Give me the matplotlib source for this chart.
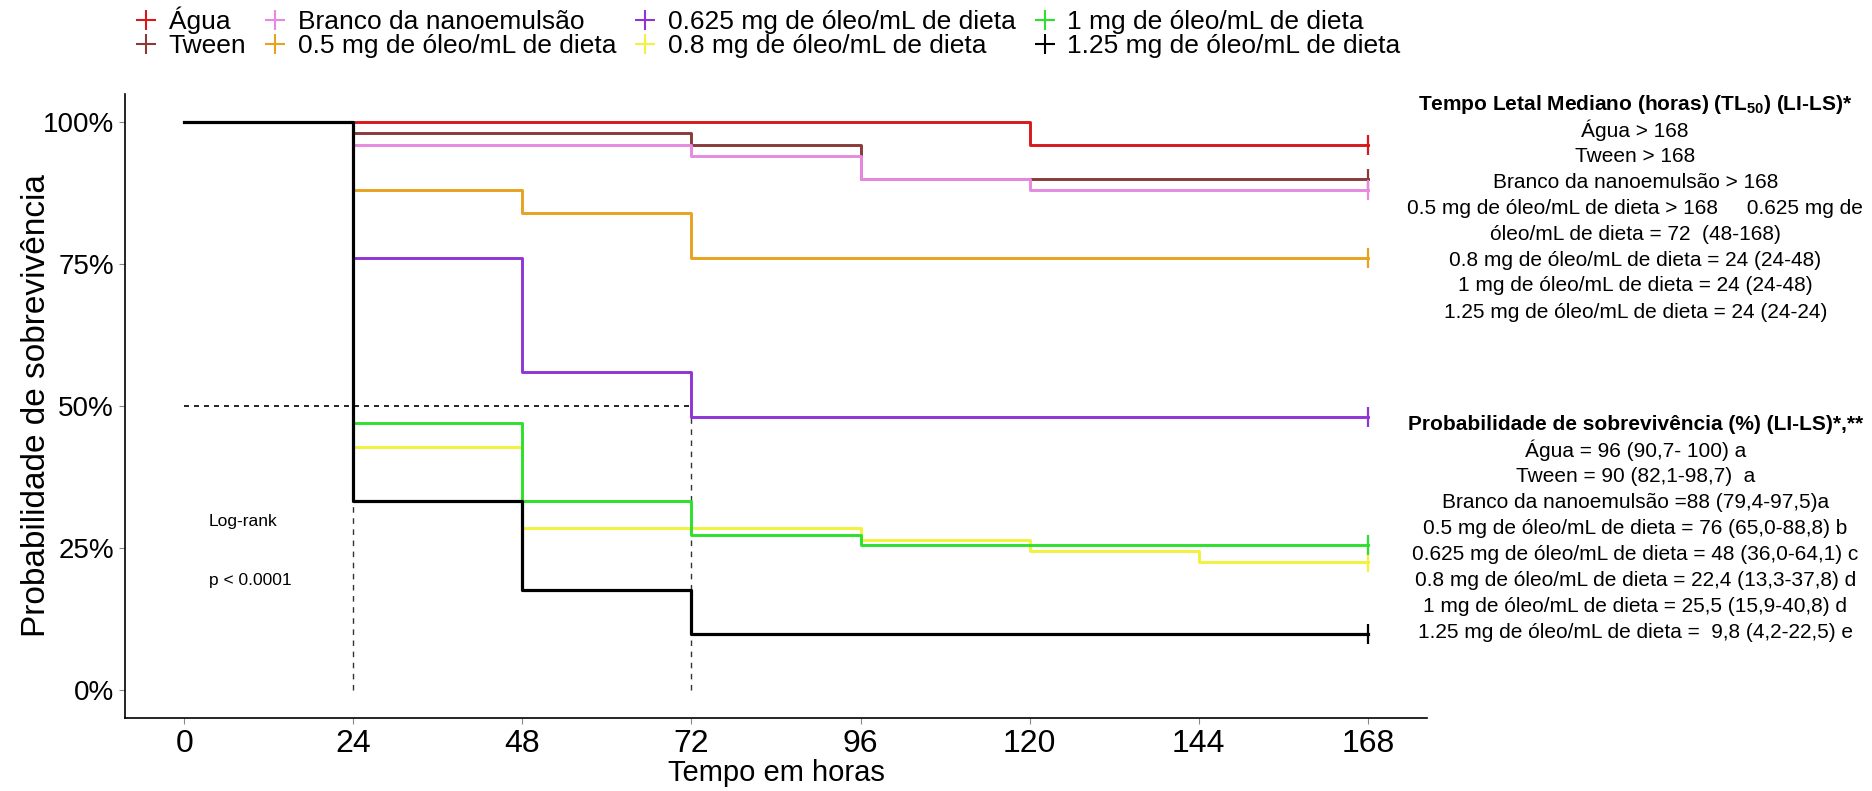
import matplotlib
matplotlib.use('Agg')
import matplotlib.pyplot as plt
from matplotlib import font_manager
from matplotlib.lines import Line2D
from matplotlib.ticker import FuncFormatter

# fontes: versão estreita se existir
_nomes = {f.name for f in font_manager.fontManager.ttflist}
NARROW = 'Liberation Sans Narrow' if 'Liberation Sans Narrow' in _nomes else 'Liberation Sans'
REGULAR = 'Liberation Sans'
plt.rcParams['font.family'] = [REGULAR, 'DejaVu Sans']
plt.rcParams['mathtext.fontset'] = 'custom'
plt.rcParams['mathtext.rm'] = NARROW
plt.rcParams['mathtext.bf'] = NARROW + ':bold'
FAM = [NARROW, 'DejaVu Sans']

# tempos (horas) e sobrevivência (%) em cada tempo
tempos = [0, 24, 48, 72, 96, 120, 144, 168]
agua = [100, 100, 100, 100, 100, 96, 96, 96]
tween = [100, 98, 98, 96, 90, 90, 90, 90]
branco = [100, 96, 96, 94, 90, 88, 88, 88]
oleo_05 = [100, 88, 84, 76, 76, 76, 76, 76]
oleo_0625 = [100, 76, 56, 48, 48, 48, 48, 48]
oleo_08 = [100, 42.7, 28.5, 28.5, 26.4, 24.5, 22.4, 22.4]
oleo_1 = [100, 47, 33.2, 27.2, 25.5, 25.5, 25.5, 25.5]
oleo_125 = [100, 33.2, 17.5, 9.8, 9.8, 9.8, 9.8, 9.8]

grupos = ['Água', 'Tween', 'Branco da nanoemulsão', '0.5 mg de óleo/mL de dieta',
          '0.625 mg de óleo/mL de dieta', '0.8 mg de óleo/mL de dieta',
          '1 mg de óleo/mL de dieta', '1.25 mg de óleo/mL de dieta']
series = [agua, tween, branco, oleo_05, oleo_0625, oleo_08, oleo_1, oleo_125]
cores = ['#D7191C', '#8B3A3A', '#E58AE0', '#E9A21F', '#8E35D6', '#F2F23A', '#2EE02E', '#000000']

# tempos medianos (linhas tracejadas)
medianas = [24, 72]

tl50 = ['Água > 168', 'Tween > 168', 'Branco da nanoemulsão > 168',
        '0.5 mg de óleo/mL de dieta > 168     0.625 mg de',
        'óleo/mL de dieta = 72  (48-168)',
        '0.8 mg de óleo/mL de dieta = 24 (24-48)',
        '1 mg de óleo/mL de dieta = 24 (24-48)',
        '1.25 mg de óleo/mL de dieta = 24 (24-24)']
prob = ['Água = 96 (90,7- 100) a', 'Tween = 90 (82,1-98,7)  a',
        'Branco da nanoemulsão =88 (79,4-97,5)a',
        '0.5 mg de óleo/mL de dieta = 76 (65,0-88,8) b',
        '0.625 mg de óleo/mL de dieta = 48 (36,0-64,1) c',
        '0.8 mg de óleo/mL de dieta = 22,4 (13,3-37,8) d',
        '1 mg de óleo/mL de dieta = 25,5 (15,9-40,8) d',
        '1.25 mg de óleo/mL de dieta =  9,8 (4,2-22,5) e']

fig = plt.figure(figsize=(18.72, 7.91), dpi=100)
ax = fig.add_axes([0.0668, 0.0923, 0.6955, 0.7894])

for s, c in zip(series, cores):
    lw = 2.3 if c == '#000000' else 2.1
    ax.step(tempos, [v / 100 for v in s], where='post', color=c, lw=lw, zorder=3)
    ax.plot(tempos[-1], s[-1] / 100, marker='|', ms=14, mew=1.6, color=c, zorder=4)

# linhas da mediana
ax.plot([0, max(medianas)], [0.5, 0.5], ls=(0, (3, 3)), color='black', lw=1.2, zorder=2)
for m in medianas:
    ax.plot([m, m], [0, 0.5], ls=(0, (4, 4)), color='#333333', lw=1.0, zorder=2)

ax.text(3.5, 0.296, 'Log-rank', fontsize=12.5, family=FAM, va='center')
ax.text(3.5, 0.192, 'p < 0.0001', fontsize=12.5, family=FAM, va='center')

ax.set_xlim(-8.4, 176.4)
ax.set_ylim(-0.05, 1.05)
ax.set_xticks(tempos)
ax.set_yticks([0, 0.25, 0.5, 0.75, 1.0])
ax.yaxis.set_major_formatter(FuncFormatter(lambda v, p: f'{v * 100:.0f}%'))
for lab in ax.get_xticklabels():
    lab.set_family(FAM)
    lab.set_fontsize(23)
for lab in ax.get_yticklabels():
    lab.set_fontsize(20)
ax.tick_params(length=4, width=0.8, color='#888888', pad=4)
for lado in ['top', 'right']:
    ax.spines[lado].set_visible(False)
for lado in ['left', 'bottom']:
    ax.spines[lado].set_linewidth(1.2)

ax.set_xlabel('Tempo em horas', fontsize=21, family=FAM, labelpad=0)
ax.set_ylabel('Probabilidade de sobrevivência', fontsize=24)
ax.yaxis.set_label_coords(-0.056, 0.5)

# legenda em duas linhas
alcas = [Line2D([], [], ls='none', marker='+', ms=15, mew=1.5, color=c) for c in cores]
fig.legend(alcas, grupos, loc='upper left', bbox_to_anchor=(0.064, 1.012), ncol=4, frameon=False,
           prop={'family': FAM, 'size': 19}, handlelength=0.8,
           handletextpad=0.45, columnspacing=0.7, labelspacing=0.0, borderaxespad=0.2)

# quadro de resultados à direita
xc = 0.8735
fs = 15
fig.text(xc, 1 - 104 / 791, r'Tempo Letal Mediano (horas) (TL$_{\mathbf{50}}$) (LI-LS)*', ha='center',
         va='center', fontsize=fs, fontweight='bold', family=FAM)
for i, t in enumerate(tl50):
    fig.text(xc, 1 - (130 + 26 * i) / 791, t, ha='center', va='center', fontsize=fs, family=FAM)
fig.text(xc, 1 - 424 / 791, 'Probabilidade de sobrevivência (%) (LI-LS)*,**', ha='center',
         va='center', fontsize=fs, fontweight='bold', family=FAM)
for i, t in enumerate(prob):
    fig.text(xc, 1 - (450 + 26 * i) / 791, t, ha='center', va='center', fontsize=fs, family=FAM)

fig.savefig('out.png', dpi=100, facecolor='white')
